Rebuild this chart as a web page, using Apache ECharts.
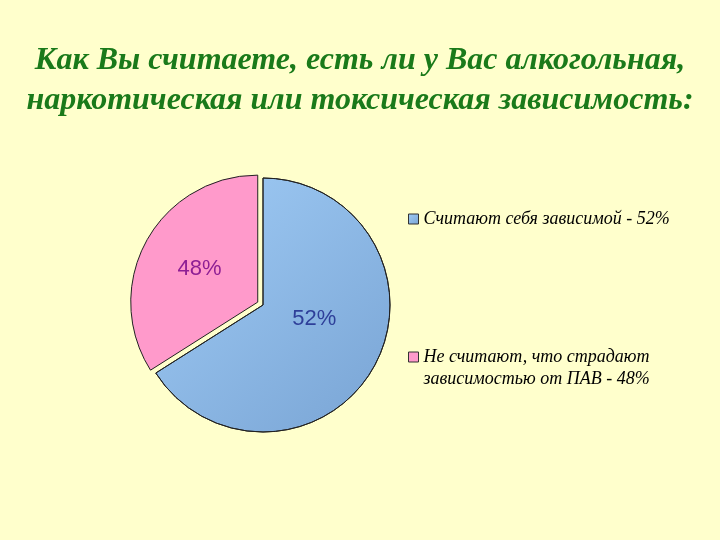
<!DOCTYPE html>
<html>
<head>
<meta charset="utf-8">
<script src="https://cdn.jsdelivr.net/npm/echarts@6/dist/echarts.min.js"></script>
<style>
  html, body { margin: 0; padding: 0; background: #ffffcc; }
  #chart { width: 720px; height: 540px; }
</style>
</head>
<body>
<div id="chart"></div>
<script>
// Категории и подписи
const categories = ['Считают себя зависимой - 52%', 'Не считают, что страдают\nзависимостью от ПАВ - 48%'];
// Размеры секторов, как они нарисованы на картинке (примерно 2:1)
const sliceValues = [66, 34];
// Подписи на секторах
const sliceLabels = ['52%', '48%'];

// сдвиг подписей относительно стандартного положения
const labelShift = [[-7, -18], [0, -1]];

const chart = echarts.init(document.getElementById('chart'));

const blue = new echarts.graphic.LinearGradient(0, 0, 1, 1, [
    { offset: 0, color: '#a0ccf6' },
    { offset: 1, color: '#79a4d4' }
]);

const legendText = {
    fontFamily: 'Liberation Serif',
    fontStyle: 'italic',
    fontSize: 18,
    lineHeight: 22,
    color: '#000'
};

chart.setOption({
    backgroundColor: '#ffffcc',
    title: {
        text: 'Как Вы считаете, есть ли у Вас алкогольная,\nнаркотическая или токсическая зависимость:',
        left: 'center',
        top: 36,
        textStyle: {
            fontFamily: 'Liberation Serif',
            fontStyle: 'italic',
            fontWeight: 'bold',
            fontSize: 32,
            lineHeight: 40,
            color: '#1a7a1a'
        }
    },
    legend: [
        {
            data: [categories[0]],
            left: 403,
            top: 203,
            itemWidth: 10,
            itemHeight: 10,
            icon: 'rect',
            itemStyle: { borderColor: '#333', borderWidth: 1 },
            selectedMode: false,
            textStyle: legendText
        },
        {
            data: [categories[1]],
            left: 403,
            top: 319,
            itemWidth: 10,
            itemHeight: 10,
            icon: 'rect',
            itemStyle: { borderColor: '#333', borderWidth: 1 },
            selectedMode: false,
            // пустая строка сверху, чтобы значок стоял у первой строки
            formatter: name => '\n' + name,
            textStyle: legendText
        }
    ],
    series: [{
        type: 'pie',
        center: [263, 305],
        radius: 127,
        startAngle: 90,
        clockwise: true,
        selectedMode: 'single',
        selectedOffset: 6,
        silent: true,
        emphasis: { disabled: true },
        itemStyle: { borderColor: '#222', borderWidth: 1 },
        label: {
            position: 'inside',
            fontFamily: 'Liberation Sans',
            fontSize: 22
        },
        labelLine: { show: false },
        labelLayout: params => ({
            dx: labelShift[params.dataIndex][0],
            dy: labelShift[params.dataIndex][1]
        }),
        data: [
            {
                name: categories[0],
                value: sliceValues[0],
                itemStyle: { color: blue },
                label: { formatter: sliceLabels[0], color: '#2e3f99' }
            },
            {
                name: categories[1],
                value: sliceValues[1],
                selected: true,
                itemStyle: { color: '#ff9acb' },
                label: { formatter: sliceLabels[1], color: '#8e1f94' }
            }
        ]
    }]
});
</script>
</body>
</html>
